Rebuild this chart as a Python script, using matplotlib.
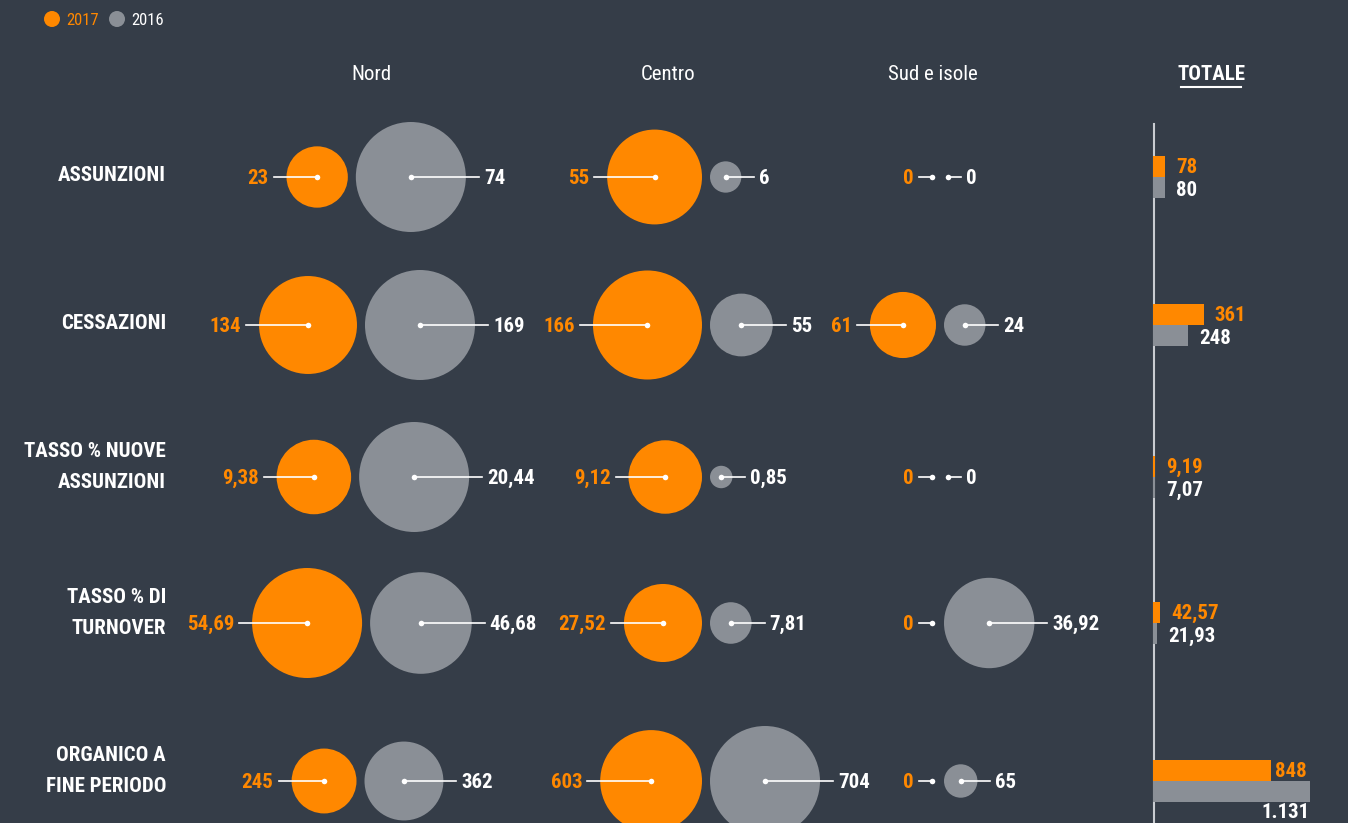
import numpy as np
import matplotlib
matplotlib.use("Agg")
import matplotlib.pyplot as plt
from matplotlib.patches import Circle

plt.rcParams["font.family"] = ["Roboto Condensed", "Liberation Sans Narrow",
                               "Roboto", "DejaVu Sans"]

# data
rows = ["ASSUNZIONI", "CESSAZIONI", "TASSO % NUOVE\nASSUNZIONI",
        "TASSO % DI\nTURNOVER", "ORGANICO A\nFINE PERIODO"]
areas = ["Nord", "Centro", "Sud e isole"]
v2017 = [[23, 55, 0], [134, 166, 61], [9.38, 9.12, 0],
         [54.69, 27.52, 0], [245, 603, 0]]
v2016 = [[74, 6, 0], [169, 55, 24], [20.44, 0.85, 0],
         [46.68, 7.81, 36.92], [362, 704, 65]]
tot2017 = [78, 361, 9.19, 42.57, 848]
tot2016 = [80, 248, 7.07, 21.93, 1131]
lab2017 = [["23", "55", "0"], ["134", "166", "61"], ["9,38", "9,12", "0"],
           ["54,69", "27,52", "0"], ["245", "603", "0"]]
lab2016 = [["74", "6", "0"], ["169", "55", "24"], ["20,44", "0,85", "0"],
           ["46,68", "7,81", "36,92"], ["362", "704", "65"]]
tlab2017 = ["78", "361", "9,19", "42,57", "848"]
tlab2016 = ["80", "248", "7,07", "21,93", "1.131"]

# style / layout
BG = "#353d48"
ORANGE = "#ff8800"
GREY = "#8a8f96"
WHITE = "#ffffff"
row_y = [177, 325, 477, 623, 781]
col_anchor = [364, 706, 940]
col_pull = [1.0, 0.0, 0.0]   # 1: centres balanced on anchor, 0: gap on anchor
head_x = [371, 668, 933]
rmax = 55
gap = 8
stub = 13
tot_x0 = 1154
tot_scale = 156 / 1131
bar_h = 21

fig = plt.figure(figsize=(13.48, 8.23), dpi=100, facecolor=BG)
ax = fig.add_axes([0, 0, 1, 1])
ax.set_facecolor(BG)
ax.set_xlim(0, 1348)
ax.set_ylim(823, 0)
ax.axis("off")

# legend
ax.add_patch(Circle((52, 19), 8, color=ORANGE, lw=0))
ax.text(66, 20, "2017", color=ORANGE, fontsize=12, va="center")
ax.add_patch(Circle((117, 19), 8, color=GREY, lw=0))
ax.text(131, 20, "2016", color=WHITE, fontsize=12, va="center")

# headers
for x, name in zip(head_x, areas):
    ax.text(x, 74, name, color=WHITE, fontsize=15, ha="center", va="center")
ax.text(1211, 74, "TOTALE", color=WHITE, fontsize=15, fontweight="bold",
        ha="center", va="center")
ax.plot([1181, 1241], [87, 87], color=WHITE, lw=1.5)


def dot_line(x0, x1, y):
    ax.plot([x0, x1], [y, y], color=WHITE, lw=1.2, zorder=3)


for i, y in enumerate(row_y):
    nlines = rows[i].count("\n") + 1
    ly = y - 2 if nlines == 1 else y - 10
    ax.text(166, ly, rows[i], color=WHITE, fontsize=15, fontweight="bold",
            ha="right", va="center", multialignment="right", linespacing=1.85)

    m = max(max(v2017[i]), max(v2016[i]))
    for j in range(3):
        a, b = v2017[i][j], v2016[i][j]
        ra = rmax * np.sqrt(a / m)
        rb = rmax * np.sqrt(b / m)
        ea, eb = max(ra, 4), max(rb, 4)
        shift = col_pull[j] * (eb - ea) / 2
        xa = col_anchor[j] - gap / 2 - ea - shift
        xb = col_anchor[j] + gap / 2 + eb - shift
        if a > 0:
            ax.add_patch(Circle((xa, y), ra, color=ORANGE, lw=0, zorder=2))
        if b > 0:
            ax.add_patch(Circle((xb, y), rb, color=GREY, lw=0, zorder=2))
        # orange label
        la = xa - ra - stub
        dot_line(la, xa, y)
        ax.plot(xa, y, "o", color=WHITE, ms=4, mew=0, zorder=4)
        ax.text(la - 5, y + 1, lab2017[i][j], color=ORANGE, fontsize=15,
                fontweight="bold", ha="right", va="center")
        # grey label
        lb = xb + rb + stub
        dot_line(xb, lb, y)
        ax.plot(xb, y, "o", color=WHITE, ms=4, mew=0, zorder=4)
        ax.text(lb + 5, y + 1, lab2016[i][j], color=WHITE, fontsize=15,
                fontweight="bold", ha="left", va="center")

    # totale bars
    wa = tot2017[i] * tot_scale
    wb = tot2016[i] * tot_scale
    ax.barh(y - bar_h / 2, wa + 1, height=bar_h, left=tot_x0 - 1,
            color=ORANGE, lw=0, zorder=3)
    ax.barh(y + bar_h / 2, wb + 1, height=bar_h, left=tot_x0 - 1,
            color=GREY, lw=0, zorder=3)
    big = tot2016[i] > 0.7 * max(tot2016)
    if big:
        ax.text(tot_x0 + wa + 4, y - bar_h / 2 + 1, tlab2017[i], color=ORANGE,
                fontsize=15, fontweight="bold", ha="left", va="center")
        ax.text(tot_x0 + wb, y + bar_h + 10, tlab2016[i], color=WHITE,
                fontsize=15, fontweight="bold", ha="right", va="center")
    else:
        ax.text(tot_x0 + wa + 11, y - bar_h / 2 + 1, tlab2017[i],
                color=ORANGE, fontsize=15, fontweight="bold", ha="left", va="center")
        ax.text(tot_x0 + wb + 11, y + bar_h / 2 + 3, tlab2016[i],
                color=WHITE, fontsize=15, fontweight="bold", ha="left", va="center")

ax.plot([tot_x0, tot_x0], [124, 823], color="#c9ccd1", lw=1.5, zorder=2)

fig.savefig("out.png", dpi=100, facecolor=BG)
